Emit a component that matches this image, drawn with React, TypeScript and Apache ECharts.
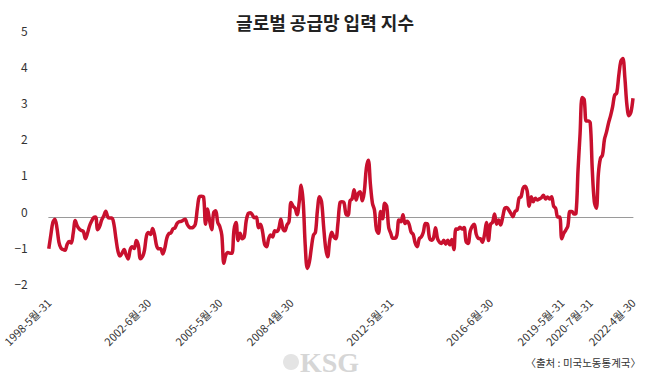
import React, { useEffect, useRef } from "react";
import * as echarts from "echarts";

const FONT = "'Noto Sans CJK KR', 'Noto Sans', sans-serif";
const TITLE = "글로벌 공급망 입력 지수";
const SOURCE = "〈출처 : 미국노동통계국〉";
const WATERMARK = "KSG";

const START_YEAR = 1998;
const START_MONTH = 5;

// Monthly index values, May 1998 .. Apr 2022
const indexValues: number[] = [
  -0.88, -0.5, -0.15, -0.06, -0.3, -0.7, -0.86, -0.9, -0.92, -0.76, -0.68, -0.72,
  -0.45, -0.1, -0.25, -0.33, -0.37, -0.4, -0.6, -0.45, -0.25, -0.12, -0.02, 0.0,
  -0.35, -0.26, -0.08, 0.03, 0.16, 0.0, -0.03, -0.03, -0.2, -0.6, -0.95, -1.08,
  -1.0, -0.9, -1.05, -1.16, -0.9, -0.82, -0.87, -0.65, -0.78, -1.15, -1.1, -0.92,
  -0.52, -0.43, -0.48, -0.32, -0.5, -0.8, -0.88, -0.88, -1.02, -0.86, -0.58, -0.46,
  -0.44, -0.33, -0.3, -0.18, -0.13, -0.12, -0.09, -0.06, -0.2, -0.28, -0.3, -0.28,
  -0.2, 0.24, 0.56, 0.57, 0.56, -0.2, 0.22, -0.1, -0.35, 0.12, 0.17, -0.15,
  -0.26, -0.5, -1.28, -1.05, -0.98, -1.0, -1.0, -0.35, -0.15, -0.65, -0.45, -0.6,
  -0.55, -0.1, 0.1, 0.12, 0.06, -0.02, 0.0, -0.3, -0.2, -0.4, -0.75, -0.82,
  -0.6, -0.5, -0.55, -0.38, -0.4, -0.32, -0.06, -0.32, -0.38, -0.22, -0.13, 0.4,
  0.3, 0.24, 0.06, 0.4, 0.88, 0.4, -0.8, -1.42, -1.25, -0.85, -0.5, -0.42,
  0.2, 0.56, 0.42, -0.25, -0.85, -1.1, -0.65, -0.42, -0.55, -0.6, -0.2, 0.38,
  0.42, 0.4, 0.08, 0.05, 0.45, 0.5, 0.75, 0.47, 0.65, 0.7, 0.45, 0.7,
  1.35, 1.57, 0.9, 0.38, 0.19, -0.36, -0.45, 0.15, -0.05, 0.38, 0.3, -0.3,
  -0.45, -0.59, -0.59, -0.5, -0.08, -0.13, 0.06, -0.18, -0.12, -0.2, -0.42, -0.48,
  -0.72, -0.82, -0.6, -0.55, -0.42, -0.18, -0.19, -0.57, -0.64, -0.58, -0.3, -0.6,
  -0.7, -0.73, -0.64, -0.75, -0.64, -0.77, -0.62, -0.9, -0.33, -0.34, -0.28, -0.33,
  -0.29, -0.68, -0.73, -0.4, -0.26, -0.2, -0.48, -0.59, -0.6, -0.7, -0.5, -0.15,
  -0.65, -0.2, -0.15, 0.08, -0.2, -0.08, -0.22, 0.0, 0.24, 0.26, 0.19, 0.1,
  0.01, 0.15, 0.19, 0.52, 0.56, 0.8, 0.85, 0.72, 0.3, 0.56, 0.42, 0.52,
  0.47, 0.5, 0.53, 0.6, 0.5, 0.55, 0.5, 0.56, 0.3, 0.24, 0.0, 0.0,
  -0.6, -0.45, -0.36, -0.25, 0.15, 0.15, 0.08, 0.1, 1.3, 2.3, 3.3, 3.25,
  2.65, 2.65, 2.6, 1.3, 0.42, 0.24, 1.2, 1.62, 1.71, 2.15, 2.35, 2.6,
  2.8, 3.05, 3.37, 3.42, 3.9, 4.3, 4.38, 3.85, 3.1, 2.8, 2.9, 3.28,
];

const xTickLabels: string[] = [
  "1998-5월-31",
  "2002-6월-30",
  "2005-5월-30",
  "2008-4월-30",
  "2012-5월-31",
  "2016-6월-30",
  "2019-5월-31",
  "2020-7월-31",
  "2022-4월-30",
];

const Y_MIN = -2;
const Y_MAX = 5;
const Y_INTERVAL = 1;

const monthCategories: string[] = indexValues.map((_, i) => {
  const t = START_MONTH - 1 + i;
  return `${START_YEAR + Math.floor(t / 12)}-${(t % 12) + 1}`;
});

const labelByIndex: Record<number, string> = {};
xTickLabels.forEach((lab) => {
  const [y, m] = lab.split("-");
  const idx = (parseInt(y, 10) - START_YEAR) * 12 + (parseInt(m, 10) - START_MONTH);
  labelByIndex[idx] = lab;
});

export default function App() {
  const ref = useRef<HTMLDivElement>(null);

  useEffect(() => {
    document.body.style.margin = "0";
    if (!ref.current) return;
    const chart = echarts.init(ref.current, null, { renderer: "svg" });
    chart.setOption({
      animation: false,
      textStyle: { fontFamily: FONT },
      title: {
        text: TITLE,
        left: "center",
        top: 8,
        textStyle: { fontSize: 18, fontWeight: "bold", color: "#222", fontFamily: FONT },
      },
      grid: { left: 43, right: 17, top: 36, bottom: 92.6 },
      xAxis: [
        {
          type: "category",
          data: monthCategories,
          boundaryGap: false,
          axisLine: { show: false, onZero: false },
          axisTick: { show: false },
          splitLine: { show: false },
          axisLabel: {
            interval: (idx: number) => labelByIndex[idx] !== undefined,
            formatter: (_v: string, idx: number) => labelByIndex[idx] ?? "",
            rotate: 45,
            margin: 11,
            fontSize: 11,
            color: "#333",
            fontFamily: FONT,
          },
        },
        {
          type: "category",
          data: monthCategories,
          boundaryGap: false,
          position: "bottom",
          axisLine: { show: true, onZero: true, lineStyle: { color: "#9a9a9a", width: 1 } },
          axisTick: { show: false },
          axisLabel: { show: false },
          splitLine: { show: false },
        },
      ],
      yAxis: {
        type: "value",
        min: Y_MIN,
        max: Y_MAX,
        interval: Y_INTERVAL,
        axisLine: { show: false },
        axisTick: { show: false },
        splitLine: { show: false },
        axisLabel: {
          margin: 21,
          fontSize: 12,
          color: "#333",
          verticalAlign: "bottom",
          fontFamily: FONT,
          formatter: (v: number) => (v < 0 ? "\u2212" + Math.abs(v) : String(v)),
        },
      },
      series: [
        {
          type: "line",
          data: indexValues,
          xAxisIndex: 0,
          smooth: 0.35,
          symbol: "none",
          showSymbol: false,
          lineStyle: { color: "#c8102e", width: 3.5 },
          z: 3,
        },
      ],
      graphic: [
        {
          type: "text",
          right: 9,
          top: 357,
          style: { text: SOURCE, fontSize: 10.5, fill: "#333", fontFamily: FONT },
        },
        {
          type: "circle",
          shape: { cx: 291, cy: 362, r: 8 },
          style: { fill: "#e4e4e4" },
        },
        {
          type: "text",
          left: 300,
          top: 348,
          style: {
            text: WATERMARK,
            fontSize: 28,
            fontWeight: "bold",
            fill: "#d6d6d6",
            fontFamily: "'Liberation Serif', serif",
          },
        },
      ],
    });
    return () => chart.dispose();
  }, []);

  return <div ref={ref} style={{ width: 650, height: 382 }} />;
}
